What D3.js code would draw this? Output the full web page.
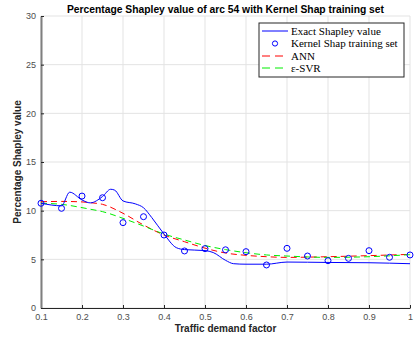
<!DOCTYPE html>
<html>
<head>
<meta charset="utf-8">
<script src="https://cdn.jsdelivr.net/npm/d3@7"></script>
<style>
  body { margin: 0; background: #fff; }
  svg { display: block; font-family: "Liberation Sans", Arial, sans-serif; }
</style>
</head>
<body>
<svg id="chart" width="415" height="339"></svg>
<script>
// exact Shapley value (blue solid)
const exactX = [0.10, 0.15, 0.17, 0.20, 0.22, 0.25, 0.27, 0.28, 0.30, 0.33, 0.35, 0.37, 0.40, 0.43, 0.45, 0.50, 0.52, 0.55, 0.57, 0.60, 0.65, 0.70, 0.80, 0.90, 1.00]
const exactY = [10.76, 10.5, 11.9, 11.1, 10.8, 11.45, 12.2, 12.1, 11.0, 10.7, 10.3, 9.3, 7.6, 6.2, 6.0, 5.9, 5.7, 4.9, 4.55, 4.5, 4.5, 4.72, 4.68, 4.65, 4.55]

// kernel shap training set (circles)
const trainX = [0.10, 0.15, 0.20, 0.25, 0.30, 0.35, 0.40, 0.45, 0.50, 0.55, 0.60, 0.65, 0.70, 0.75, 0.80, 0.85, 0.90, 0.95, 1.00]
const trainY = [10.76, 10.24, 11.5, 11.33, 8.77, 9.38, 7.5, 5.86, 6.1, 5.98, 5.79, 4.42, 6.13, 5.34, 4.86, 5.1, 5.89, 5.21, 5.45]

// model predictions
const modelX = [0.10, 0.15, 0.20, 0.22, 0.25, 0.30, 0.35, 0.40, 0.45, 0.50, 0.55, 0.60, 0.65, 0.70, 0.80, 0.90, 1.00]
const annY = [10.92, 10.95, 10.9, 10.82, 10.65, 9.73, 8.53, 7.5, 6.81, 6.15, 5.65, 5.41, 5.27, 5.2, 5.27, 5.38, 5.51]
const svrY = [10.76, 10.65, 10.31, 10.15, 9.9, 9.21, 8.42, 7.6, 6.99, 6.42, 6.0, 5.68, 5.45, 5.34, 5.2, 5.27, 5.48]

const xTicks = [0.1, 0.2, 0.3, 0.4, 0.5, 0.6, 0.7, 0.8, 0.9, 1]
const yTicks = [0, 5, 10, 15, 20, 25, 30]

const legendLabels = ["Exact Shapley value", "Kernel Shap training set", "ANN", "\u03b5-SVR"]

var margin = { top: 16, right: 5, bottom: 31, left: 41 },
    width = 415 - margin.left - margin.right,
    height = 339 - margin.top - margin.bottom;

const svg = d3.select("#chart")
const g = svg.append("g")
    .attr("transform", "translate(" + margin.left + "," + margin.top + ")")

var xScale = d3.scaleLinear().domain([0.1, 1]).range([0, width])
var yScale = d3.scaleLinear().domain([0, 30]).range([height, 0])

// grid
g.append("g").selectAll("line").data(xTicks).enter().append("line")
    .attr("x1", d => xScale(d)).attr("x2", d => xScale(d))
    .attr("y1", 0).attr("y2", height)
    .attr("stroke", "#e3e3e3").attr("stroke-width", 1)
g.append("g").selectAll("line").data(yTicks).enter().append("line")
    .attr("x1", 0).attr("x2", width)
    .attr("y1", d => yScale(d)).attr("y2", d => yScale(d))
    .attr("stroke", "#e3e3e3").attr("stroke-width", 1)

// axes
const xAxis = g.append("g")
    .attr("transform", "translate(0," + height + ")")
    .call(d3.axisBottom(xScale).tickValues(xTicks).tickSizeInner(-3).tickSizeOuter(0).tickPadding(6)
        .tickFormat(d => d === 1 ? "1" : d3.format(".1f")(d)))
xAxis.select(".domain").attr("stroke", "#262626")
xAxis.selectAll(".tick line").attr("stroke", "#262626")
xAxis.selectAll("text").attr("fill", "#4d4d4d").attr("font-size", 9)

const yAxis = g.append("g")
    .call(d3.axisLeft(yScale).tickValues(yTicks).tickSizeInner(-3).tickSizeOuter(0).tickPadding(5))
yAxis.select(".domain").attr("stroke", "#7f7f7f").attr("stroke-width", 2)
yAxis.selectAll(".tick line").attr("stroke", "#262626")
yAxis.selectAll("text").attr("fill", "#4d4d4d").attr("font-size", 9)

// lines
const clip = g.append("clipPath").attr("id", "clip").append("rect")
    .attr("width", width).attr("height", height)

var line = d3.line().x(d => xScale(d[0])).y(d => yScale(d[1])).curve(d3.curveMonotoneX)

const plot = g.append("g").attr("clip-path", "url(#clip)")

plot.append("path")
    .datum(modelX.map((x, i) => [x, annY[i]]))
    .attr("d", line).attr("fill", "none")
    .attr("stroke", "#ff0000").attr("stroke-width", 1).attr("stroke-dasharray", "6,4")

plot.append("path")
    .datum(modelX.map((x, i) => [x, svrY[i]]))
    .attr("d", line).attr("fill", "none")
    .attr("stroke", "#00ee00").attr("stroke-width", 1).attr("stroke-dasharray", "6,4")

plot.append("path")
    .datum(exactX.map((x, i) => [x, exactY[i]]))
    .attr("d", line).attr("fill", "none")
    .attr("stroke", "#0000ff").attr("stroke-width", 1)

g.append("g").selectAll("circle")
    .data(trainX.map((x, i) => [x, trainY[i]]))
    .enter().append("circle")
    .attr("cx", d => xScale(d[0])).attr("cy", d => yScale(d[1]))
    .attr("r", 3).attr("fill", "none")
    .attr("stroke", "#0000ff").attr("stroke-width", 1)

// title + axis labels
svg.append("text")
    .attr("x", margin.left + width / 2).attr("y", 13)
    .attr("text-anchor", "middle").attr("font-weight", "bold").attr("font-size", 10.3)
    .attr("fill", "#000")
    .text("Percentage Shapley value of arc 54 with Kernel Shap training set")

svg.append("text")
    .attr("x", margin.left + width / 2).attr("y", 332)
    .attr("text-anchor", "middle").attr("font-weight", "bold").attr("font-size", 10)
    .attr("fill", "#262626")
    .text("Traffic demand factor")

svg.append("text")
    .attr("transform", "translate(21," + (margin.top + height / 2) + ") rotate(-90)")
    .attr("text-anchor", "middle").attr("font-weight", "bold").attr("font-size", 10)
    .attr("fill", "#262626")
    .text("Percentage Shapley value")

// legend
const legend = svg.append("g").attr("transform", "translate(259,23)")
legend.append("rect")
    .attr("width", 145).attr("height", 54)
    .attr("fill", "#fff").attr("stroke", "#262626").attr("stroke-width", 1)

const rowY = [8, 20.5, 33, 45]
legendLabels.forEach(function (lab, i) {
    const row = legend.append("g").attr("transform", "translate(0," + rowY[i] + ")")
    if (i === 1) {
        row.append("circle").attr("cx", 16).attr("cy", 0).attr("r", 2.6)
            .attr("fill", "none").attr("stroke", "#0000ff").attr("stroke-width", 1)
    } else {
        row.append("line").attr("x1", 3).attr("x2", 29).attr("y1", 0).attr("y2", 0)
            .attr("stroke", ["#0000ff", null, "#ff0000", "#00ee00"][i]).attr("stroke-width", 1)
            .attr("stroke-dasharray", i === 0 ? null : "8,5")
    }
    row.append("text").attr("x", 32).attr("y", 3.5)
        .attr("font-family", "'Liberation Serif', 'Times New Roman', serif")
        .attr("font-size", 11).attr("fill", "#000")
        .text(lab)
})
</script>
</body>
</html>
